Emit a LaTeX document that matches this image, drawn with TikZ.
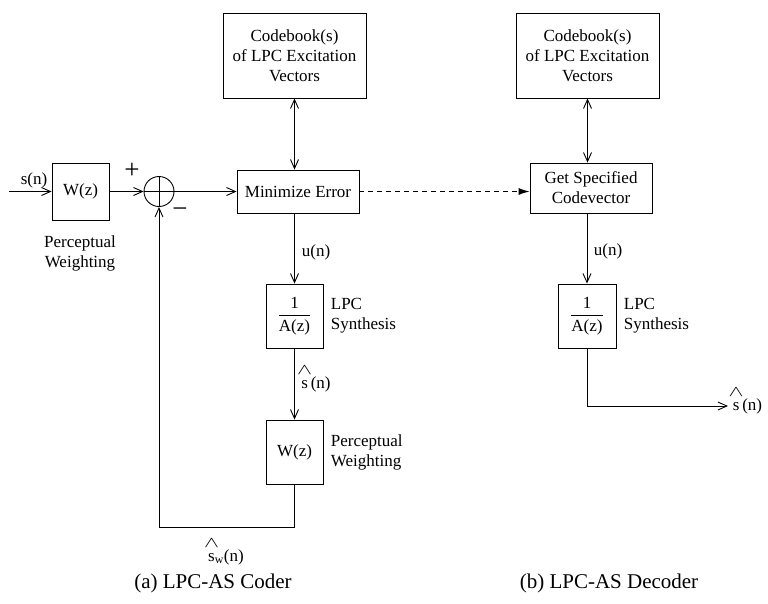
\documentclass[tikz,border=0pt]{standalone}
\usepackage{amsmath}
\usepackage{fontspec}
\setmainfont{Liberation Serif}
\usetikzlibrary{arrows.meta,positioning}
\newcommand{\shat}{\overset{\makebox[0pt]{\raisebox{2pt}{\scalebox{1.3}[0.9]{$\wedge$}}}}{\text{s}}}

\begin{document}
\begin{tikzpicture}[
    x=1pt, y=-1pt,
    font=\fontsize{17}{20}\selectfont,
    line width=0.9pt,
    box/.style={draw, align=center, inner sep=0pt, minimum width=57pt, minimum height=64pt},
    adder/.style={draw, circle, minimum size=30pt, inner sep=0pt,
      path picture={\draw (path picture bounding box.north) -- (path picture bounding box.south)
        (path picture bounding box.west) -- (path picture bounding box.east);}},
    sig/.style={-{Straight Barb[length=9pt,width=8pt]}},
    both/.style={{Straight Barb[length=9pt,width=8pt]}-{Straight Barb[length=9pt,width=8pt]}},
    dsig/.style={-{Latex[length=11pt,width=7pt]}, dash pattern=on 5pt off 4pt},
    side/.style={align=left, inner sep=0pt},
    sign/.style={font=\fontsize{27}{30}\selectfont, inner sep=0pt},
    caption/.style={font=\fontsize{21}{24}\selectfont}
  ]
    \useasboundingbox (0,0) rectangle (768,603);
    % (a) coder
    \coordinate (in) at (9,191.5);
    \node[box, minimum height=57pt] (wz1) at (80.5,191.5) {W(z)};
    \node[adder] (sum) at (159,191.5) {};
    \node[box, minimum width=122pt, minimum height=43pt] (minerr) at (298,191.5) {Minimize Error};
    \node[box, minimum width=143pt, minimum height=85pt] (cb1) at (294.5,55.5) {Codebook(s)\\of LPC Excitation\\Vectors};
    \node[box] (syn1) at (294.5,316) {$\dfrac{\text{1}}{\text{A(z)}}$};
    \node[box] (wz2) at (294.5,452) {W(z)};
    \coordinate (fb) at (159,527);
    \node (sin) at (34,180) {s(n)};
    \node[sign] (plus) at (132,171) {+};
    \node[sign] (minus) at (180,213) {−};
    \node[align=center] (pw1) at (80,253) {Perceptual\\Weighting};
    \node (u1) at (316,252) {u(n)};
    \node[side, right=7pt of syn1] (ls1) {LPC\\Synthesis};
    \node (sh1) at (316,378) {$\shat\,$(n)};
    \node[side, right=7pt of wz2] (pw2) {Perceptual\\Weighting};
    \node (sw) at (226,551) {$\shat_{\text{w}}$(n)};
    \node[caption] (capa) at (213,583) {(a) LPC-AS Coder};
    % (b) decoder
    \node[box, minimum width=143pt, minimum height=85pt] (cb2) at (587.5,55.5) {Codebook(s)\\of LPC Excitation\\Vectors};
    \node[box, minimum width=122pt, minimum height=50pt] (getcv) at (591,188) {Get Specified\\Codevector};
    \node[box, minimum width=58pt] (syn2) at (587,316) {$\dfrac{\text{1}}{\text{A(z)}}$};
    \coordinate (out) at (728,406);
    \node (u2) at (608,251) {u(n)};
    \node[side, right=7pt of syn2] (ls2) {LPC\\Synthesis};
    \node[anchor=west] (sh2) at (729,400) {$\shat\,$(n)};
    \node[caption] (capb) at (609,583) {(b) LPC-AS Decoder};
    % connectors
    \draw[sig] (in) -- (wz1);
    \draw[sig] (wz1) -- (sum);
    \draw[sig] (sum) -- (minerr);
    \draw[both] (cb1.south) -- (cb1.south |- minerr.north);
    \draw[sig] (syn1.north |- minerr.south) -- (syn1);
    \draw[sig] (syn1) -- (wz2);
    \draw[sig] (wz2.south) |- (fb) -- (sum);
    \draw[dsig] (minerr.east) -- (minerr.east -| getcv.west);
    \draw[both] (cb2.south) -- (cb2.south |- getcv.north);
    \draw[sig] (syn2.north |- getcv.south) -- (syn2);
    \draw[sig] (syn2.south) |- (out);
\end{tikzpicture}
\end{document}
